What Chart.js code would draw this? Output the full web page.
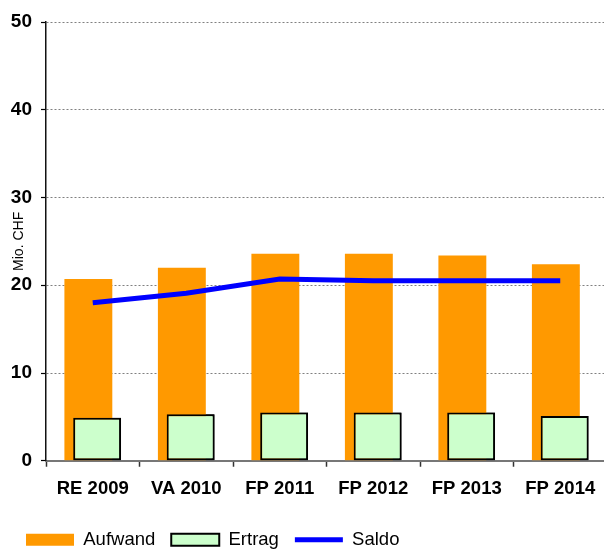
<!DOCTYPE html>
<html>
<head>
<meta charset="utf-8">
<script src="https://cdn.jsdelivr.net/npm/chart.js@4/dist/chart.umd.min.js"></script>
<style>
    html, body { margin: 0; padding: 0; background: #fff; }
    #wrap { width: 604px; height: 549px; overflow: hidden; }
</style>
</head>
<body>
<div id="wrap"><canvas id="chart" width="607" height="559"></canvas></div>
<script>
const categories = ['RE 2009', 'VA 2010', 'FP 2011', 'FP 2012', 'FP 2013', 'FP 2014'];
const aufwand    = [20.7, 22.0, 23.6, 23.6, 23.4, 22.4];
const ertrag     = [4.9, 5.3, 5.5, 5.5, 5.5, 5.1];
const saldo      = [18.0, 19.1, 20.7, 20.5, 20.5, 20.5];
const yTicks     = [0, 10, 20, 30, 40, 50];

const FONT = '"Liberation Sans", Arial, sans-serif';

// Ertrag sits in front of Aufwand although it is the right one of the pair
const ertragOnTop = {
    id: 'ertragOnTop',
    afterDatasetsDraw (chart)
    {
        chart.getDatasetMeta(1).controller.draw();
    }
};

const legendStyles = ['rect', 'rect', 'line'];

new Chart(document.getElementById('chart').getContext('2d'), {
    data: {
        labels: categories,
        datasets: [
            {
                type: 'bar',
                label: 'Aufwand',
                data: aufwand,
                backgroundColor: '#FF9900',
                borderWidth: 0,
                order: 1,
                categoryPercentage: 0.188,
                barPercentage: 5.45
            },
            {
                type: 'bar',
                label: 'Ertrag',
                data: ertrag,
                backgroundColor: '#CCFFCC',
                borderColor: '#000000',
                borderWidth: 2,
                borderSkipped: false,
                order: 2,
                categoryPercentage: 0.188,
                barPercentage: 5.45
            },
            {
                type: 'line',
                label: 'Saldo',
                data: saldo,
                borderColor: '#0000FF',
                backgroundColor: '#0000FF',
                borderWidth: 5,
                tension: 0,
                pointRadius: 0,
                order: 0
            }
        ]
    },
    options: {
        responsive: false,
        animation: false,
        devicePixelRatio: 1,
        layout: { padding: { left: 10, top: 22, right: 0, bottom: 0 } },
        scales: {
            x: {
                offset: true,
                grid: {
                    offset: true,
                    drawOnChartArea: false,
                    drawTicks: true,
                    tickLength: 6,
                    tickColor: '#333333',
                    tickWidth: 1.5
                },
                border: { color: '#777777', width: 2 },
                ticks: {
                    color: '#000000',
                    padding: 11.5,
                    maxRotation: 0,
                    font: { family: FONT, size: 18.5, weight: 'bold' }
                },
                afterFit (scale) { scale.height = 53.75; }
            },
            y: {
                min: 0,
                max: 50,
                afterBuildTicks (scale) { scale.ticks = yTicks.map((v) => ({ value: v })); },
                grid: {
                    color: '#808080',
                    lineWidth: 1,
                    tickLength: 5,
                    tickColor: '#000000',
                    tickWidth: 1.2
                },
                border: { color: '#111111', width: 1.5, dash: [2, 2] },
                ticks: {
                    color: '#000000',
                    padding: 9,
                    font: { family: FONT, size: 19, weight: 'bold' }
                },
                title: {
                    display: true,
                    text: 'Mio. CHF',
                    color: '#000000',
                    padding: { top: 4, bottom: 0 },
                    font: { family: FONT, size: 14, lineHeight: 0.8 }
                },
                afterFit (scale) { scale.width = 36; }
            }
        },
        plugins: {
            tooltip: { enabled: false },
            legend: {
                position: 'bottom',
                align: 'start',
                labels: {
                    color: '#000000',
                    usePointStyle: true,
                    pointStyleWidth: 48,
                    boxWidth: 48,
                    boxHeight: 12,
                    padding: 16,
                    font: { family: FONT, size: 18.5 },
                    sort: (a, b) => a.datasetIndex - b.datasetIndex,
                    generateLabels (chart) {
                        const items = Chart.defaults.plugins.legend.labels.generateLabels(chart);

                        return items.map((item) => Object.assign(item, { pointStyle: legendStyles[item.datasetIndex] }));
                    }
                }
            }
        }
    },
    plugins: [ertragOnTop]
});
</script>
</body>
</html>
